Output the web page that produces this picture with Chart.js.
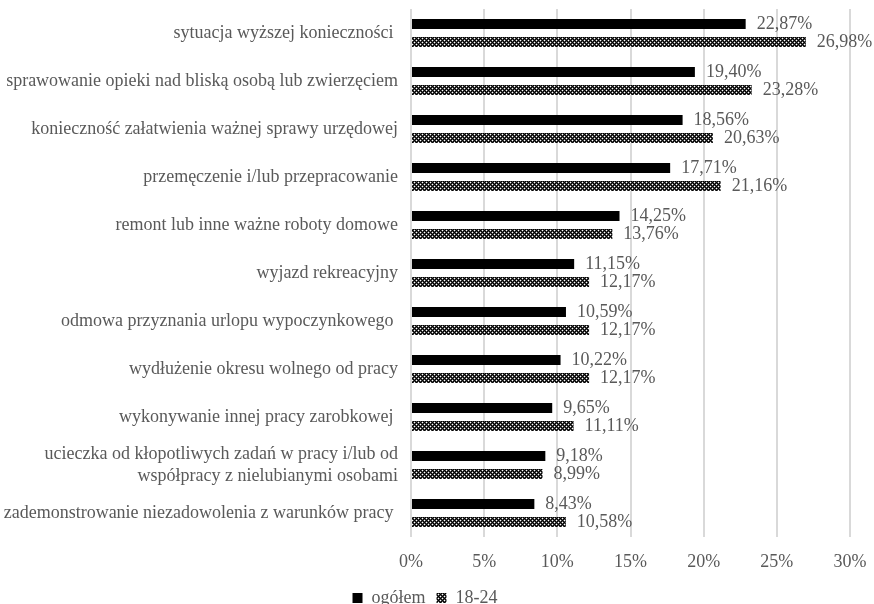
<!DOCTYPE html>
<html>
<head>
<meta charset="utf-8">
<script src="https://cdn.jsdelivr.net/npm/chart.js@4.4.1/dist/chart.umd.min.js"></script>
<style>
  html, body { margin: 0; padding: 0; background: #fff; }
  #wrap { width: 874px; height: 604px; }
</style>
</head>
<body>
<div id="wrap"><canvas id="c" width="874" height="604"></canvas></div>
<script>
const categories = [
  'sytuacja wyższej konieczności ',
  'sprawowanie opieki nad bliską osobą lub zwierzęciem',
  'konieczność załatwienia ważnej sprawy urzędowej',
  'przemęczenie i/lub przepracowanie',
  'remont lub inne ważne roboty domowe',
  'wyjazd rekreacyjny',
  'odmowa przyznania urlopu wypoczynkowego ',
  'wydłużenie okresu wolnego od pracy',
  'wykonywanie innej pracy zarobkowej ',
  ['ucieczka od kłopotliwych zadań w pracy i/lub od', 'współpracy z nielubianymi osobami'],
  'zademonstrowanie niezadowolenia z warunków pracy '
];
const seriesNames = ['ogółem', '18-24'];
const ogolem = [22.87, 19.40, 18.56, 17.71, 14.25, 11.15, 10.59, 10.22, 9.65, 9.18, 8.43];
const mlodzi = [26.98, 23.28, 20.63, 21.16, 13.76, 12.17, 12.17, 12.17, 11.11, 8.99, 10.58];
const xTicks = [0, 5, 10, 15, 20, 25, 30];

const FONT = '"Liberation Serif", "Times New Roman", serif';
const GRAY = '#595959';
const SIZE = 18;

// dotted-diamond fill used for the 18-24 series
function makePattern() {
  const p = document.createElement('canvas');
  p.width = 4; p.height = 4;
  const g = p.getContext('2d');
  g.fillStyle = '#000000';
  g.fillRect(0, 0, 4, 4);
  g.fillStyle = '#4a4a4a';
  [[1,0],[3,0],[0,1],[0,3],[1,2],[3,2],[2,1],[2,3]].forEach(([x, y]) => g.fillRect(x, y, 1, 1));
  g.fillStyle = '#ffffff';
  g.fillRect(0, 0, 1, 1);
  g.fillRect(2, 2, 1, 1);
  return g.createPattern(p, 'repeat');
}
const cctx = document.getElementById('c').getContext('2d');
const hatch = makePattern();

const fmt = v => v.toFixed(2).replace('.', ',') + '%';

const valueLabels = {
  id: 'valueLabels',
  afterDatasetsDraw(chart) {
    const ctx = chart.ctx;
    ctx.save();
    ctx.font = SIZE + 'px ' + FONT;
    ctx.fillStyle = GRAY;
    ctx.textAlign = 'left';
    ctx.textBaseline = 'middle';
    chart.data.datasets.forEach((ds, di) => {
      chart.getDatasetMeta(di).data.forEach((bar, i) => {
        ctx.fillText(fmt(ds.data[i]), bar.x + 11, bar.y);
      });
    });
    ctx.restore();
  }
};

new Chart(cctx, {
  type: 'bar',
  data: {
    labels: categories,
    datasets: [
      { label: seriesNames[0], data: ogolem, backgroundColor: '#000000' },
      { label: seriesNames[1], data: mlodzi, backgroundColor: hatch }
    ]
  },
  options: {
    indexAxis: 'y',
    responsive: false,
    animation: false,
    devicePixelRatio: 1,
    categoryPercentage: 0.75,
    barPercentage: 0.56,
    // negative bottom padding lets the legend sit close to the lower edge
    layout: { padding: { top: 9, right: 24, left: 0, bottom: -13 } },
    scales: {
      x: {
        min: 0, max: 30,
        afterBuildTicks(scale) { scale.ticks = xTicks.map(v => ({ value: v })); },
        afterFit(scale) {
          scale.height = 50;
          scale.paddingLeft = 0;
          scale.paddingRight = 0;
        },
        grid: { color: '#d9d9d9', lineWidth: 2, drawTicks: false },
        border: { display: false },
        ticks: {
          padding: 14,
          color: GRAY,
          font: { family: FONT, size: SIZE },
          callback: v => v + '%'
        }
      },
      y: {
        grid: { display: false, drawTicks: false },
        border: { display: false },
        afterFit(scale) {
          scale.width = 411;
          scale.paddingTop = 0;
          scale.paddingBottom = 0;
        },
        ticks: {
          padding: 13,
          color: GRAY,
          autoSkip: false,
          font: { family: FONT, size: SIZE }
        }
      }
    },
    plugins: {
      legend: {
        position: 'bottom',
        labels: {
          color: GRAY,
          font: { family: FONT, size: SIZE },
          boxWidth: 10,
          boxHeight: 10,
          padding: 2,
          generateLabels(chart) {
            const items = Chart.defaults.plugins.legend.labels.generateLabels(chart);
            items[0].text += '  ';
            items.forEach(it => { it.lineWidth = 0; it.strokeStyle = 'rgba(0,0,0,0)'; });
            return items;
          }
        }
      },
      tooltip: { enabled: false }
    }
  },
  plugins: [valueLabels]
});
</script>
</body>
</html>
